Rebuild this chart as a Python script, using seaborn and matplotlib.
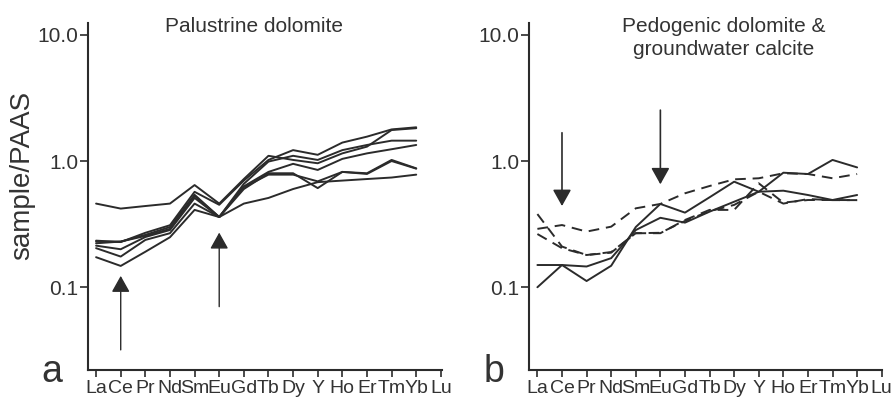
import numpy as np
import pandas as pd
import matplotlib
matplotlib.use("Agg")
import matplotlib.pyplot as plt
import seaborn as sns

# REE + Y element order (PAAS-normalised)
elements = ["La", "Ce", "Pr", "Nd", "Sm", "Eu", "Gd", "Tb", "Dy", "Y",
            "Ho", "Er", "Tm", "Yb", "Lu"]

# (a) Palustrine dolomite samples, La..Yb
pal_1 = [0.46, 0.42, 0.44, 0.46, 0.645, 0.46, 0.72, 1.10, 1.02, 0.96, 1.15, 1.30, 1.76, 1.82]
pal_2 = [0.234, 0.228, 0.27, 0.31, 0.57, 0.45, 0.70, 1.02, 1.22, 1.12, 1.40, 1.56, 1.78, 1.85]
pal_3 = [0.223, 0.23, 0.26, 0.30, 0.54, 0.36, 0.66, 0.99, 1.10, 1.02, 1.22, 1.34, 1.45, 1.45]
pal_4 = [0.2135, 0.20, 0.25, 0.284, 0.51, 0.36, 0.63, 0.82, 0.95, 0.85, 1.04, 1.15, 1.24, 1.34]
pal_5 = [0.204, 0.175, 0.237, 0.268, 0.46, 0.36, 0.60, 0.80, 0.80, 0.61, 0.82, 0.80, 1.02, 0.875]
pal_6 = [0.173, 0.1475, 0.191, 0.249, 0.41, 0.36, 0.62, 0.78, 0.78, 0.69, 0.82, 0.79, 1.00, 0.87]
pal_7 = [0.23, 0.23, 0.255, 0.29, 0.53, 0.36, 0.46, 0.51, 0.60, 0.68, 0.70, 0.72, 0.74, 0.78]

# (b) Pedogenic dolomite (solid) and groundwater calcite (dashed), La..Yb
ped_1 = [0.10, 0.150, 0.112, 0.148, 0.30, 0.457, 0.39, 0.516, 0.686, 0.571, 0.808, 0.789, 1.02, 0.89]
ped_2 = [0.15, 0.150, 0.146, 0.17, 0.284, 0.355, 0.325, 0.397, 0.476, 0.571, 0.582, 0.538, 0.491, 0.538]
gw_1 = [0.29, 0.311, 0.276, 0.302, 0.422, 0.457, 0.555, 0.634, 0.716, 0.73, 0.80, 0.789, 0.73, 0.789]
gw_2 = [0.38, 0.21, 0.18, 0.188, 0.268, 0.268, 0.341, 0.41, 0.41, 0.666, 0.468, 0.491, 0.491, 0.49]
gw_3 = [0.264, 0.204, 0.18, 0.19, 0.268, 0.27, 0.335, 0.40, 0.449, 0.571, 0.46, 0.50, 0.49, 0.49]

# arrow anchors (value at tail, value at tip) for the Ce and Eu anomalies
arrows_a = {"Ce": (0.0319, 0.123), "Eu": (0.0702, 0.271)}
arrows_b = {"Ce": (1.675, 0.44), "Eu": (2.53, 0.654)}

ink = "#2b2b2b"
text_c = "#333333"

sns.set_theme(style="ticks")
plt.rcParams["font.family"] = ["Liberation Sans", "DejaVu Sans"]


def long_frame(series, kinds):
    rows = []
    for name, vals in series.items():
        for i, v in enumerate(vals):
            rows.append({"sample": name, "pos": i, "value": v, "kind": kinds[name]})
    return pd.DataFrame(rows)


fig = plt.figure(figsize=(8.93, 4.03), dpi=100)
ax_a = fig.add_axes([0.0985, 0.0819, 0.396, 0.861])
ax_b = fig.add_axes([0.5927, 0.0819, 0.3955, 0.861])

pal_series = {"p1": pal_1, "p2": pal_2, "p3": pal_3, "p4": pal_4,
              "p5": pal_5, "p6": pal_6, "p7": pal_7}
df_a = long_frame(pal_series, {k: "palustrine" for k in pal_series})
sns.lineplot(data=df_a, x="pos", y="value", units="sample", estimator=None,
             color=ink, lw=1.4, ax=ax_a, legend=False)

b_series = {"s1": ped_1, "s2": ped_2, "g1": gw_1, "g2": gw_2, "g3": gw_3}
b_kinds = {"s1": "pedogenic", "s2": "pedogenic",
           "g1": "groundwater", "g2": "groundwater", "g3": "groundwater"}
df_b = long_frame(b_series, b_kinds)
sns.lineplot(data=df_b, x="pos", y="value", units="sample", estimator=None,
             style="kind", dashes={"pedogenic": "", "groundwater": (5.5, 3.5)},
             color=ink, lw=1.4, ax=ax_b, legend=False)

for ax in (ax_a, ax_b):
    ax.set_yscale("log")
    ax.set_ylim(0.0221, 12.4)
    ax.set_xlim(-0.33, 14.03)
    ax.set_yticks([10.0, 1.0, 0.1])
    ax.set_yticklabels(["10.0", "1.0", "0.1"])
    ax.yaxis.set_minor_locator(matplotlib.ticker.NullLocator())
    ax.set_xticks(range(len(elements)))
    ax.set_xticklabels(elements)
    ax.tick_params(axis="y", labelsize=15, length=6, width=1.2, color=ink,
                   labelcolor=text_c, pad=1)
    ax.tick_params(axis="x", labelsize=14, length=5, width=1.2, color=ink,
                   labelcolor=text_c, pad=2.5)
    ax.set_xlabel("")
    ax.set_ylabel("")
    for side in ("top", "right"):
        ax.spines[side].set_visible(False)
    for side in ("left", "bottom"):
        ax.spines[side].set_color(ink)
        ax.spines[side].set_linewidth(1.5)
    ax.patch.set_alpha(0)

# anomaly arrows
for el, (tail, tip) in arrows_a.items():
    x = elements.index(el)
    ax_a.annotate("", xy=(x, tip), xytext=(x, tail),
                  arrowprops=dict(arrowstyle="-|>,head_length=0.5,head_width=0.28",
                                  mutation_scale=20, color=ink, lw=1.0,
                                  shrinkA=0, shrinkB=0))
for el, (tail, tip) in arrows_b.items():
    x = elements.index(el)
    ax_b.annotate("", xy=(x, tip), xytext=(x, tail),
                  arrowprops=dict(arrowstyle="-|>,head_length=0.5,head_width=0.28",
                                  mutation_scale=20, color=ink, lw=1.2,
                                  shrinkA=0, shrinkB=0))

fig.text(22 / 893, 1 - 175 / 403, "sample/PAAS", rotation=90, ha="center",
         va="center", fontsize=20, color=text_c)
fig.text(254 / 893, 1 - 32 / 403, "Palustrine dolomite", ha="center",
         va="baseline", fontsize=15, color=text_c)
fig.text(724 / 893, 1 - 32 / 403, "Pedogenic dolomite &", ha="center",
         va="baseline", fontsize=15, color=text_c)
fig.text(724 / 893, 1 - 55 / 403, "groundwater calcite", ha="center",
         va="baseline", fontsize=15, color=text_c)
fig.text(52 / 893, 1 - 382 / 403, "a", ha="center", va="baseline",
         fontsize=27, color=text_c)
fig.text(494 / 893, 1 - 382 / 403, "b", ha="center", va="baseline",
         fontsize=27, color=text_c)

fig.savefig("out.png", dpi=100, facecolor="white")
